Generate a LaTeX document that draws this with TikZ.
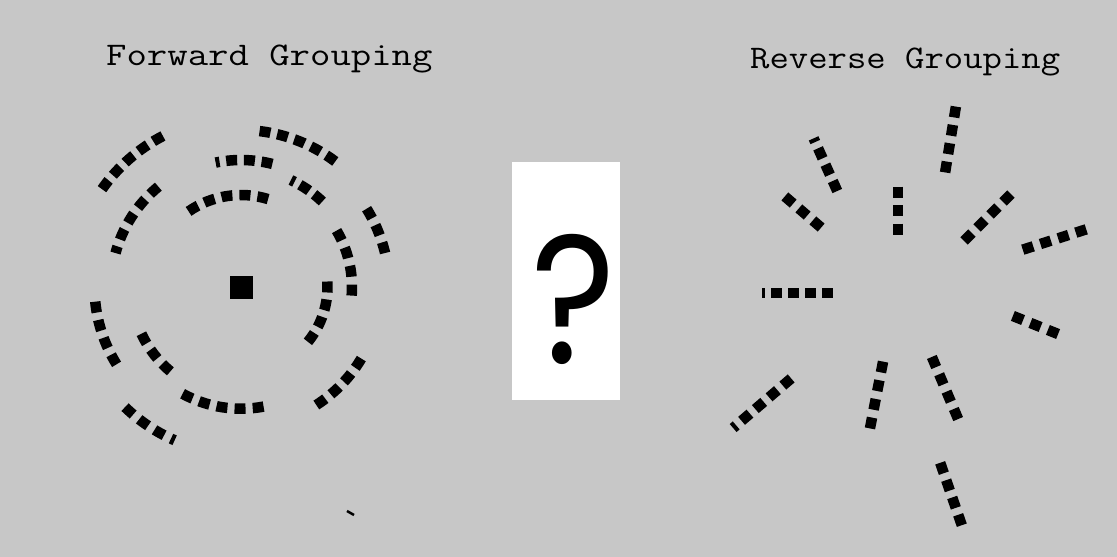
\documentclass[tikz,border=0pt]{standalone}
\usepackage{fontspec}
\newfontfamily\markfont{Poppins}
\usetikzlibrary{calc}
\definecolor{paper}{gray}{0.78}
\newcommand{\ringarc}[5]{%
  \pgfmathsetmacro\rghw{5.5/#1*57.2958}%
  \pgfmathsetmacro\rgdir{ifthenelse(#3>#2,1,-1)}%
  \pgfmathsetmacro\rgsa{-(#2-\rgdir*\rghw)}%
  \pgfmathsetmacro\rgea{-(#3-\rgdir*\rghw+\rgdir*#5/#1*57.2958)}%
  \pgfmathsetmacro\rggap{abs(#3-#2)/57.2958*#1/(#4-1)-11}%
  \draw[dashline,dash pattern=on 11pt off \rggap pt] (core.center) ++(\rgsa:#1) arc[start angle=\rgsa,end angle=\rgea,radius=#1];}
\newcommand{\spoke}[6]{%
  \pgfmathsetmacro\spgap{veclen(#3-#1,#4-#2)/(#5-1)-11}%
  \pgfmathsetmacro\sptail{5.5-#6}%
  \draw[dashline,dash pattern=on 11pt off \spgap pt] ($(#1,#2)!-5.5pt!(#3,#4)$) -- ($(#3,#4)!\sptail pt!(#1,#2)$);}

\begin{document}
\begin{tikzpicture}[x=1pt,y=-1pt,
  title/.style={font=\ttfamily\fontsize{33}{40}\selectfont\addfontfeature{FakeBold=1.2},anchor=base west,inner sep=0pt},
  dashline/.style={line width=10.5pt,line cap=butt}]
\fill[paper] (0,0) rectangle (1117,557);
\useasboundingbox (0,0) rectangle (1117,557);
\node[title] (fwd) at (106,65) {\scalebox{1.2}[1]{Forward Grouping}};
\node[title] (rev) at (750,68) {\scalebox{1.14}[1]{Reverse Grouping}};
\node[fill=black,minimum size=23pt,inner sep=0pt] (core) at (241,287) {};
\node[fill=white,minimum width=108pt,minimum height=238pt,inner sep=0pt] (qbox) at (566,281) {};
\node[font=\markfont\fontsize{183}{183}\selectfont,inner sep=0pt,anchor=base] (qmark) at (574,363) {\scalebox{0.88}[1]{?}};
\ringarc{92}{121.3}{76.3}{5}{11}
\ringarc{127}{78.2}{102.2}{4}{4}
\ringarc{118}{49.1}{65.7}{3}{4}
\ringarc{157}{55.1}{81.2}{5}{11}
\ringarc{170}{119.2}{143}{5}{11}
\ringarc{130}{131.9}{164.2}{5}{7}
\ringarc{111}{27.7}{-1.6}{4}{11}
\ringarc{148}{29.8}{15.4}{3}{11}
\ringarc{86.5}{0}{-35.7}{4}{11}
\ringarc{146.5}{187.9}{209.7}{4}{11}
\ringarc{110}{208}{227.2}{3}{11}
\ringarc{121.7}{243.9}{278.1}{5}{11}
\ringarc{167}{227.9}{247.1}{4}{4}
\ringarc{140}{-33}{-55.2}{4}{11}
\draw[line width=2.5pt] (347,511) -- (354,515);
\spoke{835}{186}{813}{137}{4}{4}
\spoke{789}{200}{817}{224}{3}{11}
\spoke{898}{192}{898}{229}{3}{11}
\spoke{955}{112}{946}{167}{4}{11}
\spoke{1007}{198}{968}{237}{4}{11}
\spoke{1081}{231}{1028}{248}{4}{11}
\spoke{827}{293}{759}{293}{5}{3}
\spoke{1018}{318}{1053}{332}{3}{11}
\spoke{787}{382}{732}{429}{5}{4}
\spoke{882}{367}{871}{423}{4}{11}
\spoke{934}{362}{956}{414}{4}{11}
\spoke{942}{468}{960}{520}{4}{11}
\end{tikzpicture}
\end{document}
